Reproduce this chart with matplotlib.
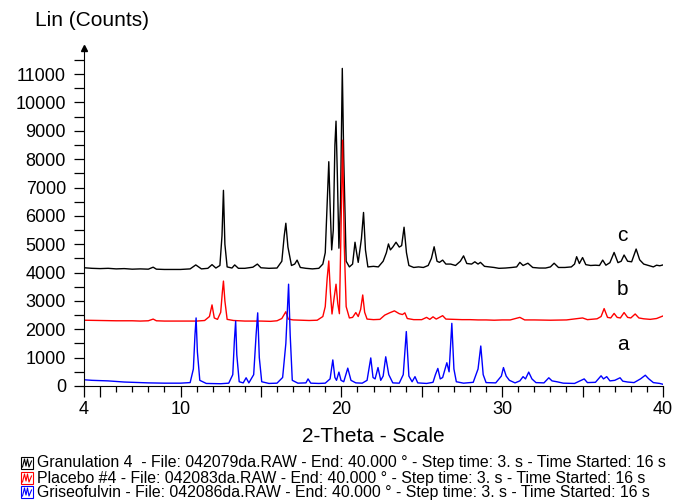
import matplotlib
matplotlib.use('Agg')
import matplotlib.pyplot as plt
from matplotlib.patches import Rectangle
from matplotlib.lines import Line2D

plt.rcParams['font.family'] = ['Liberation Sans', 'DejaVu Sans']

# (2-theta, counts)
granulation = [
    (4.0, 4170), (4.5, 4150), (5.0, 4140), (5.5, 4150), (6.0, 4130), (6.5, 4140),
    (7.0, 4120), (7.5, 4130), (8.0, 4120), (8.3, 4190), (8.5, 4120), (9.0, 4110),
    (9.5, 4110), (10.0, 4110), (10.6, 4130), (10.95, 4270), (11.3, 4130), (11.7, 4150),
    (11.96, 4280), (12.2, 4160), (12.45, 4250), (12.58, 5300), (12.67, 6900), (12.76, 5000),
    (12.9, 4200), (13.2, 4160), (13.37, 4270), (13.6, 4150), (14.0, 4150), (14.5, 4190),
    (14.78, 4300), (15.0, 4170), (15.5, 4150), (16.0, 4160), (16.3, 4400), (16.45, 5300),
    (16.55, 5740), (16.68, 4900), (16.9, 4250), (17.1, 4300), (17.25, 4440), (17.45, 4180),
    (17.8, 4150), (18.2, 4130), (18.6, 4150), (18.85, 4300), (19.0, 4700), (19.12, 6500),
    (19.22, 7910), (19.3, 6400), (19.4, 4800), (19.5, 5500), (19.6, 8500), (19.67, 9340),
    (19.75, 7500), (19.85, 4860), (19.95, 6500), (20.06, 11200), (20.15, 8000), (20.3, 4400),
    (20.5, 4200), (20.7, 4300), (20.85, 5070), (20.95, 4700), (21.05, 4360), (21.25, 5200),
    (21.38, 6120), (21.5, 4800), (21.65, 4200), (22.0, 4220), (22.3, 4200), (22.6, 4400),
    (22.8, 4700), (22.93, 5010), (23.05, 4800), (23.2, 4900), (23.4, 5070), (23.6, 4900),
    (23.75, 4950), (23.9, 5600), (24.05, 4700), (24.2, 4250), (24.5, 4180), (24.8, 4200),
    (25.1, 4180), (25.4, 4250), (25.6, 4500), (25.77, 4910), (25.95, 4400), (26.1, 4360),
    (26.3, 4440), (26.5, 4300), (26.8, 4300), (27.1, 4250), (27.4, 4400), (27.6, 4590),
    (27.8, 4320), (28.1, 4300), (28.3, 4380), (28.5, 4300), (28.65, 4360), (28.9, 4220),
    (29.2, 4200), (29.5, 4180), (29.8, 4150), (30.2, 4160), (30.6, 4180), (30.9, 4200),
    (31.1, 4360), (31.3, 4250), (31.6, 4330), (31.9, 4180), (32.3, 4160), (32.7, 4160),
    (33.0, 4200), (33.23, 4330), (33.5, 4180), (33.9, 4180), (34.3, 4200), (34.5, 4300),
    (34.63, 4560), (34.8, 4320), (35.0, 4530), (35.2, 4280), (35.5, 4250), (35.8, 4260),
    (36.05, 4250), (36.25, 4440), (36.45, 4260), (36.7, 4350), (36.96, 4710), (37.2, 4350),
    (37.4, 4400), (37.58, 4620), (37.8, 4400), (38.05, 4380), (38.33, 4830), (38.55, 4450),
    (38.8, 4300), (39.1, 4250), (39.4, 4200), (39.6, 4260), (39.8, 4240), (40.0, 4270),
]

placebo = [
    (4.0, 2320), (5.0, 2310), (6.0, 2300), (7.0, 2300), (7.5, 2290), (8.0, 2300),
    (8.3, 2360), (8.5, 2300), (9.0, 2290), (10.0, 2290), (11.0, 2290), (11.5, 2310),
    (11.8, 2450), (11.96, 2860), (12.1, 2400), (12.3, 2350), (12.5, 2600), (12.6, 3300),
    (12.67, 3700), (12.76, 3000), (12.9, 2350), (13.3, 2310), (14.0, 2290), (15.0, 2290),
    (15.6, 2280), (16.0, 2300), (16.3, 2380), (16.55, 2620), (16.7, 2360), (17.0, 2330),
    (17.5, 2320), (18.0, 2310), (18.5, 2320), (18.85, 2450), (19.0, 2800), (19.12, 3800),
    (19.22, 4410), (19.32, 3300), (19.42, 2540), (19.55, 3100), (19.67, 3590), (19.78, 2900),
    (19.88, 2550), (19.98, 5500), (20.08, 8670), (20.18, 5000), (20.3, 2800), (20.5, 2400),
    (20.7, 2420), (20.9, 2590), (21.05, 2450), (21.2, 2700), (21.33, 3210), (21.45, 2600),
    (21.6, 2360), (22.0, 2340), (22.4, 2350), (22.7, 2500), (23.0, 2580), (23.3, 2650),
    (23.6, 2550), (23.8, 2520), (23.95, 2580), (24.1, 2380), (24.5, 2340), (25.0, 2340),
    (25.3, 2420), (25.5, 2350), (25.7, 2440), (25.9, 2360), (26.3, 2480), (26.5, 2360),
    (27.0, 2350), (27.5, 2340), (28.0, 2340), (28.5, 2330), (29.0, 2330), (29.5, 2320),
    (30.0, 2330), (30.5, 2330), (31.1, 2420), (31.4, 2330), (32.0, 2330), (33.0, 2320),
    (34.0, 2330), (35.0, 2400), (35.3, 2340), (35.9, 2370), (36.15, 2450), (36.34, 2730),
    (36.55, 2420), (36.75, 2400), (36.96, 2560), (37.15, 2420), (37.35, 2400), (37.58, 2590),
    (37.8, 2420), (38.0, 2400), (38.27, 2540), (38.5, 2400), (38.8, 2370), (39.2, 2350),
    (39.6, 2380), (40.0, 2470),
]

griseofulvin = [
    (4.0, 220), (4.5, 200), (5.0, 190), (5.5, 180), (6.0, 160), (6.5, 140), (7.0, 130),
    (7.5, 120), (8.0, 110), (9.0, 100), (10.0, 100), (10.6, 120), (10.8, 600), (10.9, 1800),
    (10.97, 2400), (11.05, 1200), (11.2, 200), (11.6, 90), (12.5, 80), (13.0, 100),
    (13.25, 400), (13.35, 1600), (13.43, 2290), (13.5, 1100), (13.65, 150), (13.9, 110),
    (14.08, 290), (14.25, 110), (14.55, 400), (14.7, 1800), (14.8, 2580), (14.9, 1000),
    (15.05, 150), (15.5, 90), (16.0, 100), (16.35, 300), (16.55, 1500), (16.72, 3590),
    (16.82, 1800), (16.95, 200), (17.3, 100), (17.8, 110), (17.93, 250), (18.1, 100),
    (18.6, 90), (19.0, 100), (19.3, 250), (19.47, 920), (19.6, 300), (19.7, 200),
    (19.85, 490), (19.98, 200), (20.15, 150), (20.4, 630), (20.6, 200), (20.9, 110),
    (21.3, 100), (21.6, 200), (21.83, 990), (21.97, 300), (22.1, 250), (22.28, 650),
    (22.45, 200), (22.6, 350), (22.76, 1030), (22.95, 400), (23.2, 110), (23.6, 100),
    (23.85, 400), (24.04, 1920), (24.2, 350), (24.4, 150), (24.58, 330), (24.75, 110),
    (25.3, 90), (25.7, 130), (25.85, 400), (26.0, 620), (26.15, 250), (26.3, 300),
    (26.56, 820), (26.7, 500), (26.87, 2210), (27.0, 600), (27.15, 150), (27.6, 100),
    (28.2, 130), (28.5, 600), (28.67, 1410), (28.82, 400), (29.0, 120), (29.6, 110),
    (29.95, 350), (30.08, 650), (30.25, 350), (30.45, 200), (30.8, 110), (31.1, 180),
    (31.3, 330), (31.45, 250), (31.65, 490), (31.85, 250), (32.1, 120), (32.6, 110),
    (32.9, 290), (33.1, 180), (33.4, 150), (33.8, 100), (34.5, 90), (35.1, 250),
    (35.3, 120), (35.8, 130), (36.15, 360), (36.3, 250), (36.5, 330), (36.7, 180),
    (37.0, 200), (37.33, 290), (37.5, 170), (37.8, 140), (38.2, 120), (38.6, 250),
    (38.9, 380), (39.1, 260), (39.4, 120), (39.8, 90), (40.0, 60),
]

legend_texts = [
    "Granulation 4  - File: 042079da.RAW - End: 40.000 \u00b0 - Step time: 3. s - Time Started: 16 s",
    "Placebo #4 - File: 042083da.RAW - End: 40.000 \u00b0 - Step time: 3. s - Time Started: 16 s",
    "Griseofulvin - File: 042086da.RAW - End: 40.000 \u00b0 - Step time: 3. s - Time Started: 16 s",
]
colors = ['black', '#ff0000', '#0000ff']
curve_labels = ['c', 'b', 'a']
label_y = [5300, 3420, 1450]

W, H = 689, 500
fig = plt.figure(figsize=(W / 100, H / 100), dpi=100)
ax = fig.add_axes([84 / W, 1 - 386 / H, (663 - 84) / W, (386 - 48) / H])

for data, c in zip([granulation, placebo, griseofulvin], colors):
    x, y = zip(*data)
    ax.plot(x, y, color=c, lw=1.0)

for lab, yy in zip(curve_labels, label_y):
    ax.text(37.5, yy, lab, fontsize=15, ha='center', va='center')

ax.set_xlim(4, 40)
ax.set_ylim(0, 11920)
ax.spines['top'].set_visible(False)
ax.spines['right'].set_visible(False)
ax.plot([4], [11920], marker='^', color='black', ms=4, clip_on=False)

ax.set_yticks(range(0, 12000, 1000))
ax.set_yticks(range(500, 12000, 1000), minor=True)
ax.tick_params(axis='y', which='both', length=7, width=0.9, labelsize=13, pad=6)

ax.set_xticks([4, 5, 10, 15, 20, 25, 30, 35, 40])
ax.set_xticklabels(['4', '', '10', '', '20', '', '30', '', '40'])
ax.set_xticks([i for i in range(5, 40) if i % 5], minor=True)
ax.tick_params(axis='x', which='major', length=8, width=0.9, labelsize=13, pad=3)
ax.tick_params(axis='x', which='minor', length=4.5, width=0.9)

fig.text(35 / W, 1 - 20 / H, 'Lin (Counts)', fontsize=15, va='center', ha='left')
ax.set_xlabel('2-Theta - Scale', fontsize=15, labelpad=6)

rows = [463, 478, 492]
for txt, c, py in zip(legend_texts, colors, rows):
    fig.text(37 / W, 1 - py / H, txt, fontsize=11.4, va='center', ha='left')
    fig.patches.append(Rectangle((21 / W, 1 - (py + 6) / H), 12 / W, 12 / H,
                                 transform=fig.transFigure, fill=False, ec=c, lw=0.8))
    zx = [22.5, 24.5, 26, 27.5, 29, 31.5]
    zy = [py + 4, py - 4, py + 3, py - 4, py + 4, py - 2]
    fig.lines.append(Line2D([v / W for v in zx], [1 - v / H for v in zy],
                            transform=fig.transFigure, color=c, lw=0.8))

fig.savefig('out.png', dpi=100)
